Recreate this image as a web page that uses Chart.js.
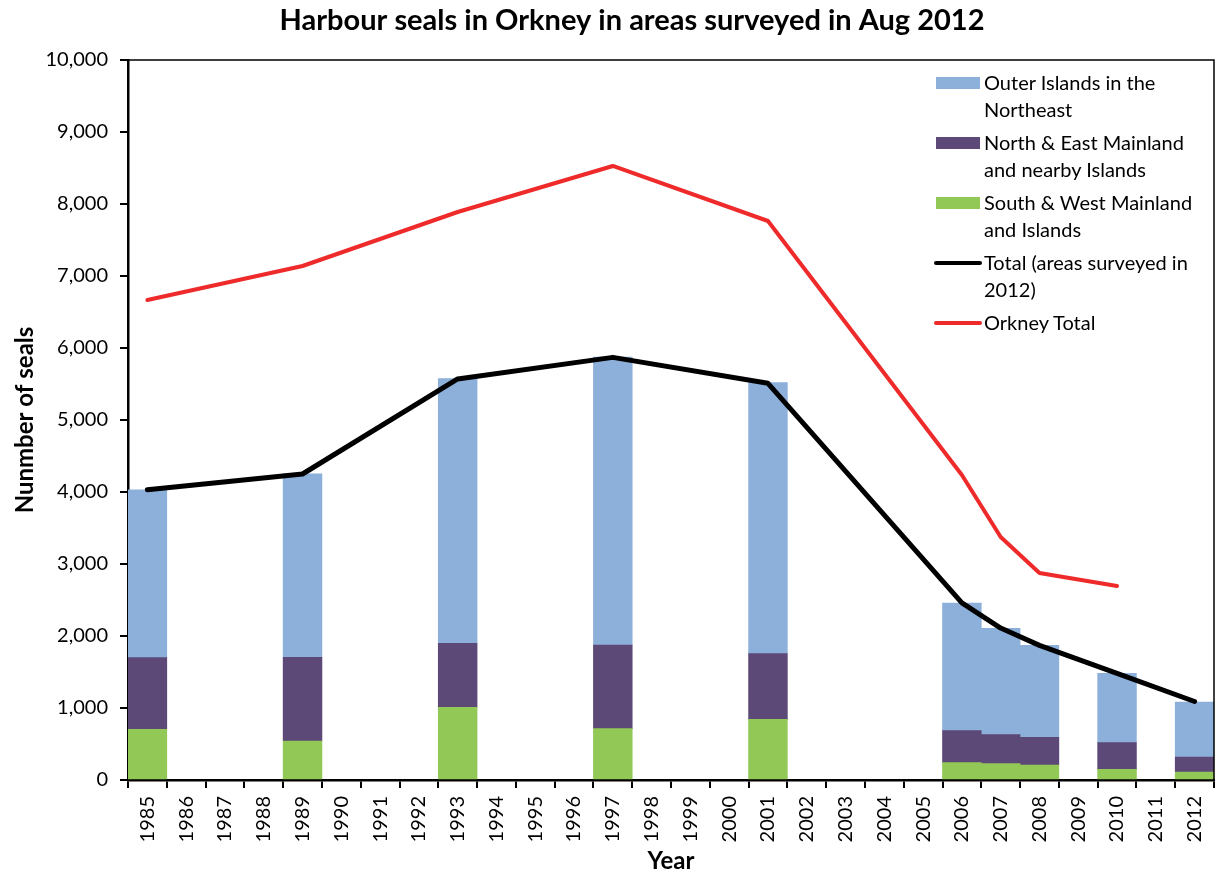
<!DOCTYPE html>
<html>
<head>
<meta charset="utf-8">
<script src="https://cdn.jsdelivr.net/npm/chart.js@4.4.0/dist/chart.umd.min.js"></script>
<style>
  body { margin: 0; background: #fff; }
  #wrap { position: relative; width: 1216px; height: 876px; }
  #legend {
    position: absolute; left: 934px; top: 69px;
    font-family: Lato, "Liberation Sans", sans-serif; font-size: 20px; color: #000;
  }
  .item { position: relative; padding-left: 50px; line-height: 27px; margin-bottom: 6px; }
  .box { position: absolute; left: 2px; top: 8px; width: 44px; height: 12px; }
  .ln { position: absolute; left: 0; top: 12px; width: 48px; height: 4px; border-radius: 2px; }
</style>
</head>
<body>
<div id="wrap">
  <canvas id="sealChart" width="1216" height="876"></canvas>
  <div id="legend">
    <div class="item"><span class="box" style="background:#8DB0DB"></span>Outer Islands in the<br>Northeast</div>
    <div class="item"><span class="box" style="background:#5D4977"></span>North &amp; East Mainland<br>and nearby Islands</div>
    <div class="item"><span class="box" style="background:#91C856"></span>South &amp; West Mainland<br>and Islands</div>
    <div class="item"><span class="ln" style="background:#000"></span>Total (areas surveyed in<br>2012)</div>
    <div class="item"><span class="ln" style="background:#EE2A2A"></span>Orkney Total</div>
  </div>
</div>
<script>
// years on the x axis
const years = [];
for (let y = 1985; y <= 2012; y++) years.push(String(y));

// survey years and values
const surveyYears = ['1985', '1989', '1993', '1997', '2001', '2006', '2007', '2008', '2010', '2012'];
const southWest = [705, 542, 1009, 713, 843, 241, 227, 208, 148, 111];
const northEast = [994, 1162, 889, 1162, 912, 444, 403, 385, 370, 208];
const outerIslands = [2330, 2550, 3676, 4000, 3763, 1773, 1476, 1277, 963, 764];
const totalSurveyed = [4030, 4250, 5570, 5870, 5510, 2460, 2110, 1870, 1480, 1090];
const orkneyTotal = [6667, 7139, 7889, 8528, 7764, 4236, 3375, 2875, 2694, null];

const yTicks = [0, 1000, 2000, 3000, 4000, 5000, 6000, 7000, 8000, 9000, 10000];

// spread survey values over all years (null where no survey)
function fill(values) {
    return years.map(function(yr) {
        const i = surveyYears.indexOf(yr);
        return i >= 0 ? values[i] : null;
    });
}

Chart.defaults.font.family = 'Lato, "Liberation Sans", sans-serif';
Chart.defaults.color = '#000';

// title and plot frame (top and right edges)
const framePlugin = {
    id: 'frame',
    afterDraw: function(chart) {
        const ctx = chart.ctx;
        const a = chart.chartArea;
        ctx.save();
        ctx.strokeStyle = '#000';
        ctx.lineWidth = 1.5;
        ctx.beginPath();
        ctx.moveTo(a.left, a.top);
        ctx.lineTo(a.right, a.top);
        ctx.lineTo(a.right, a.bottom);
        ctx.stroke();
        ctx.font = 'bold 29px Lato, "Liberation Sans", sans-serif';
        ctx.fillStyle = '#000';
        ctx.textAlign = 'center';
        ctx.textBaseline = 'middle';
        ctx.fillText('Harbour seals in Orkney in areas surveyed in Aug 2012', 632, 21);
        ctx.restore();
    }
};

const ctx = document.getElementById('sealChart').getContext('2d');
const sealChart = new Chart(ctx, {
    type: 'bar',
    data: {
        labels: years,
        datasets: [
            { label: 'South & West Mainland and Islands', data: fill(southWest), backgroundColor: '#91C856', stack: 'bars', order: 2 },
            { label: 'North & East Mainland and nearby Islands', data: fill(northEast), backgroundColor: '#5D4977', stack: 'bars', order: 2 },
            { label: 'Outer Islands in the Northeast', data: fill(outerIslands), backgroundColor: '#8DB0DB', stack: 'bars', order: 2 },
            {
                type: 'line', label: 'Total (areas surveyed in 2012)', data: fill(totalSurveyed),
                borderColor: '#000', borderWidth: 5, pointRadius: 0, spanGaps: true,
                borderJoinStyle: 'round', borderCapStyle: 'round', stack: 'l1', order: 1
            },
            {
                type: 'line', label: 'Orkney Total', data: fill(orkneyTotal),
                borderColor: '#EE2A2A', borderWidth: 4, pointRadius: 0, spanGaps: true,
                borderJoinStyle: 'round', borderCapStyle: 'round', stack: 'l2', order: 1
            }
        ]
    },
    options: {
        responsive: false,
        animation: false,
        layout: { padding: { top: 60, right: 2, left: 0, bottom: 0 } },
        plugins: { legend: { display: false }, tooltip: { enabled: false } },
        datasets: { bar: { barPercentage: 1, categoryPercentage: 1 } },
        scales: {
            x: {
                stacked: true,
                grid: { drawOnChartArea: false, color: '#000', lineWidth: 2, tickLength: 8 },
                border: { color: '#000', width: 2.5 },
                ticks: { autoSkip: false, minRotation: 90, maxRotation: 90, padding: 8, font: { size: 20 } },
                title: { display: true, text: 'Year', font: { size: 24, weight: 'bold' }, padding: { top: 2, bottom: 0 } },
                afterFit: function(scale) {
                    scale.height = 96;
                    scale.paddingLeft = 0;
                    scale.paddingRight = 0;
                }
            },
            y: {
                stacked: true,
                min: 0,
                max: 10000,
                afterBuildTicks: function(scale) {
                    scale.ticks = yTicks.map(function(v) { return { value: v }; });
                },
                grid: { drawOnChartArea: false, color: '#000', lineWidth: 2, tickLength: 8 },
                border: { color: '#000', width: 2.5 },
                ticks: {
                    padding: 12,
                    font: { size: 20 },
                    callback: function(v) { return v.toLocaleString('en-US'); }
                },
                title: { display: true, text: 'Nunmber of seals', font: { size: 24, weight: 'bold' }, padding: { top: 11, bottom: 0 } },
                afterFit: function(scale) { scale.width = 128; }
            }
        }
    },
    plugins: [framePlugin]
});
</script>
</body>
</html>
